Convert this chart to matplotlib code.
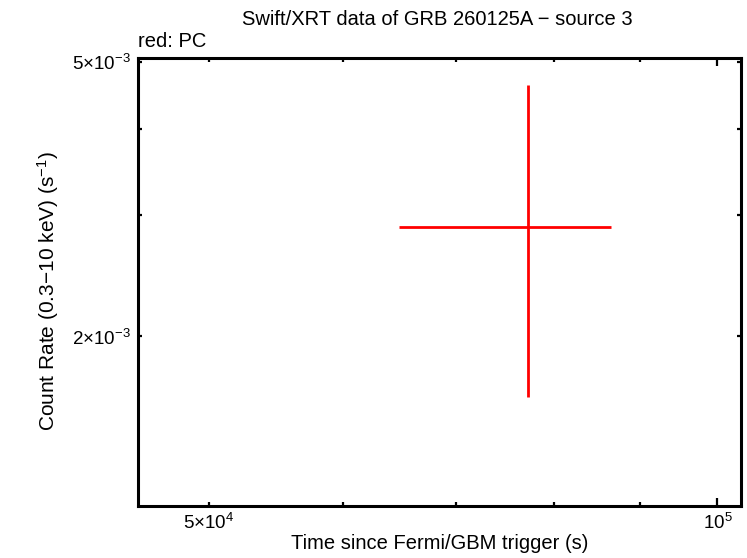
import matplotlib
matplotlib.use("Agg")
import matplotlib.pyplot as plt

plt.rcParams['font.family'] = ['Liberation Sans', 'DejaVu Sans']
plt.rcParams['mathtext.fontset'] = 'custom'
plt.rcParams['mathtext.rm'] = 'Liberation Sans'
plt.rcParams['mathtext.it'] = 'Liberation Sans'

# Data (PC mode)
time = [77210.0]
time_err_lo = [12390.0]
time_err_hi = [9310.0]
rate = [2.888e-3]
rate_err_lo = [1.256e-3]
rate_err_hi = [1.739e-3]

title = "Swift/XRT data of GRB 260125A \u2212 source 3"
xlabel = "Time since Fermi/GBM trigger (s)"
ylabel = "Count Rate (0.3\u221210 keV) (s$^{-1}$)"

x_major = [1e5]
x_major_labels = [r"$10^5$"]
x_minor = [5e4, 6e4, 7e4, 8e4, 9e4]
x_minor_labels = [r"$5{\times}10^4$", "", "", "", ""]
y_minor = [2e-3, 3e-3, 4e-3, 5e-3]
y_minor_labels = [r"$2{\times}10^{-3}$", "", "", r"$5{\times}10^{-3}$"]

fig = plt.figure(figsize=(7.47, 5.58), dpi=100)
ax = fig.add_axes([0.1847, 0.0932, 0.9913 - 0.1847, 0.8966 - 0.0932])

ax.errorbar(time, rate, xerr=[time_err_lo, time_err_hi], yerr=[rate_err_lo, rate_err_hi],
            fmt='none', ecolor='#ff0000', elinewidth=2.0, capsize=0)

ax.set_xscale('log')
ax.set_yscale('log')
ax.set_xlim(45390, 103200)
ax.set_ylim(1.135e-3, 5.077e-3)

ax.set_xticks(x_major, labels=x_major_labels)
ax.set_xticks(x_minor, labels=x_minor_labels, minor=True)
ax.set_yticks([], labels=[])
ax.set_yticks(y_minor, labels=y_minor_labels, minor=True)

for s in ax.spines.values():
    s.set_linewidth(2.2)

ax.tick_params(which='major', direction='in', length=6, width=1.6, top=True, right=True,
               labelsize=13.5, pad=5)
ax.tick_params(which='minor', direction='in', length=3, width=1.6, top=True, right=True,
               labelsize=13.5, pad=5)

ax.set_xlabel(xlabel, fontsize=14.5, labelpad=1)
ax.set_ylabel(ylabel, fontsize=15, labelpad=4)
ax.yaxis.set_label_coords(-0.128, 0.48)
fig.text(0.585, 0.965, title, ha='center', va='center', fontsize=14.5)
fig.text(0.1847, 0.925, "red: PC", ha='left', va='center', fontsize=14.5)

fig.savefig("out.png", dpi=100)
